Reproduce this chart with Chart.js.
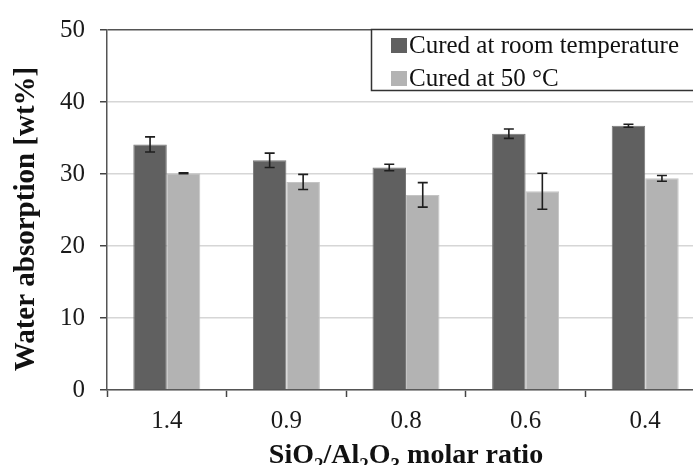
<!DOCTYPE html>
<html>
<head>
<meta charset="utf-8">
<script src="https://cdn.jsdelivr.net/npm/chart.js@4.4.0/dist/chart.umd.min.js"></script>
<style>
  html, body { margin: 0; padding: 0; background: #fff; overflow: hidden; }
  canvas { display: block; }
</style>
</head>
<body>
<canvas id="chart" width="712" height="465"></canvas>
<script>
// molar ratios on the x axis
const ratios = ["1.4", "0.9", "0.8", "0.6", "0.4"];
// water absorption in wt%, with standard deviations
const roomTemp = [34.1, 31.9, 30.9, 35.6, 36.7];
const roomTempErr = [1.05, 1.0, 0.45, 0.65, 0.2];
const cured50 = [30.1, 28.9, 27.1, 27.6, 29.4];
const cured50Err = [0.05, 1.05, 1.7, 2.5, 0.4];
const yTicks = [0, 10, 20, 30, 40, 50];

const FONT = "'Liberation Serif', 'Times New Roman', serif";
Chart.defaults.font.family = FONT;
Chart.defaults.color = "#1a1a1a";

// error bars on top of each bar
const errorBars = {
  id: "errorBars",
  afterDatasetsDraw(chart) {
    const ctx = chart.ctx;
    const y = chart.scales.y;
    ctx.save();
    ctx.strokeStyle = "#1e1e1e";
    ctx.lineWidth = 1.6;
    chart.data.datasets.forEach((ds, i) => {
      const meta = chart.getDatasetMeta(i);
      meta.data.forEach((bar, j) => {
        const v = ds.data[j], e = ds.errors[j];
        const top = y.getPixelForValue(v + e);
        const bot = y.getPixelForValue(v - e);
        ctx.beginPath();
        ctx.moveTo(bar.x, top); ctx.lineTo(bar.x, bot);
        ctx.moveTo(bar.x - 5, top); ctx.lineTo(bar.x + 5, top);
        ctx.moveTo(bar.x - 5, bot); ctx.lineTo(bar.x + 5, bot);
        ctx.stroke();
      });
    });
    ctx.restore();
  }
};

// boxed legend, axis titles with subscripts
const decorations = {
  id: "decorations",
  afterDraw(chart) {
    const ctx = chart.ctx;
    const area = chart.chartArea;
    const W = chart.width;
    ctx.save();

    // legend box, open on the right where it runs off the page
    ctx.fillStyle = "#fff";
    ctx.fillRect(371, 29, W - 371, 61);
    ctx.strokeStyle = "#333";
    ctx.lineWidth = 1.5;
    ctx.beginPath();
    ctx.moveTo(W, 29.5); ctx.lineTo(371.5, 29.5); ctx.lineTo(371.5, 90.5); ctx.lineTo(W, 90.5);
    ctx.stroke();
    ctx.font = "25px " + FONT;
    ctx.textBaseline = "alphabetic";
    chart.data.datasets.forEach((ds, i) => {
      const base = 53 + i * 33;
      ctx.fillStyle = ds.backgroundColor;
      ctx.fillRect(391, base - 15, 16, 15);
      ctx.fillStyle = "#111";
      ctx.textAlign = "left";
      ctx.fillText(ds.label, 409, base);
    });

    // y axis title
    ctx.save();
    ctx.translate(34, (area.top + area.bottom) / 2 + 9);
    ctx.rotate(-Math.PI / 2);
    ctx.font = "bold 29px " + FONT;
    ctx.textAlign = "center";
    ctx.fillStyle = "#111";
    ctx.fillText("Water absorption [wt%]", 0, 0);
    ctx.restore();

    // x axis title: SiO2/Al2O3 molar ratio
    const parts = [["SiO", 0], ["2", 1], ["/Al", 0], ["2", 1], ["O", 0], ["3", 1], [" molar ratio", 0]];
    const big = "bold 28px " + FONT, small = "bold 19px " + FONT;
    let total = 0;
    parts.forEach(p => { ctx.font = p[1] ? small : big; total += ctx.measureText(p[0]).width; });
    let x = (area.left + area.right) / 2 - total / 2;
    const baseY = 463;
    ctx.fillStyle = "#111";
    ctx.textAlign = "left";
    parts.forEach(p => {
      ctx.font = p[1] ? small : big;
      ctx.fillText(p[0], x, baseY + (p[1] ? 8 : 0));
      x += ctx.measureText(p[0]).width;
    });

    ctx.restore();
  }
};

new Chart(document.getElementById("chart"), {
  type: "bar",
  data: {
    labels: ratios,
    datasets: [
      {
        label: "Cured at room temperature",
        data: roomTemp,
        errors: roomTempErr,
        backgroundColor: "#606060",
        borderColor: "#777",
        borderWidth: 1
      },
      {
        label: "Cured at 50 \u00b0C",
        data: cured50,
        errors: cured50Err,
        backgroundColor: "#b3b3b3",
        borderColor: "#c4c4c4",
        borderWidth: 1
      }
    ]
  },
  options: {
    responsive: false,
    animation: false,
    devicePixelRatio: 1,
    layout: { padding: { top: 24, right: 7, left: 0, bottom: 0 } },
    categoryPercentage: 0.56,
    barPercentage: 1.0,
    plugins: {
      legend: { display: false },
      tooltip: { enabled: false }
    },
    scales: {
      x: {
        grid: {
          drawOnChartArea: false,
          tickLength: 7,
          tickColor: "#444",
          tickWidth: 1.5
        },
        border: { color: "#555", width: 1.5 },
        ticks: { font: { size: 25 }, padding: 9 },
        afterFit(scale) { scale.height = 75; }
      },
      y: {
        min: 0,
        max: 50,
        afterBuildTicks(scale) { scale.ticks = yTicks.map(v => ({ value: v })); },
        grid: {
          color: ctx => (ctx.tick && ctx.tick.value === 50) ? "#555" : "#d6d6d6",
          lineWidth: 1.5,
          tickLength: 7,
          tickColor: "#444",
          tickWidth: 1.5
        },
        border: { color: "#555", width: 1.5 },
        ticks: { font: { size: 25 }, padding: 15 },
        afterFit(scale) { scale.width = 107; }
      }
    }
  },
  plugins: [errorBars, decorations]
});
</script>
</body>
</html>
